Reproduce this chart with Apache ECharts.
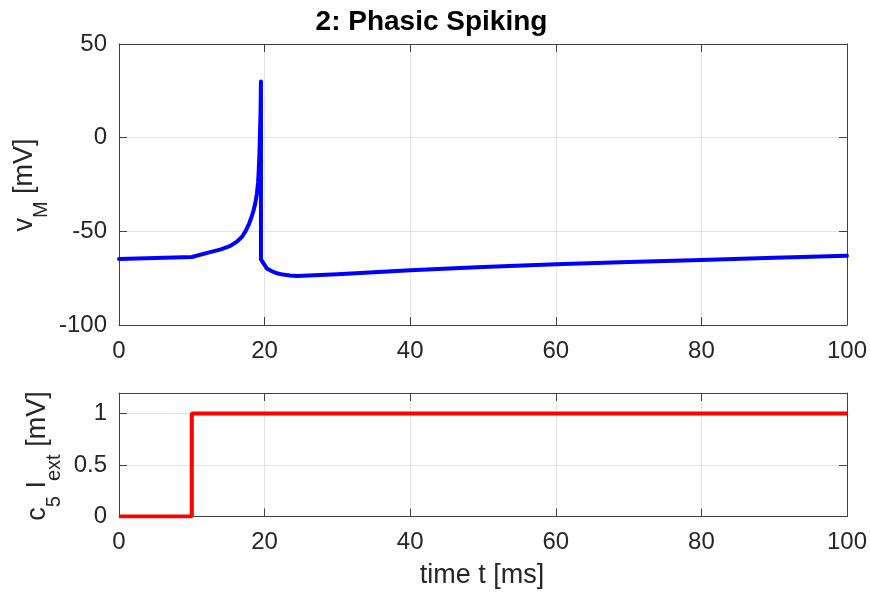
<!DOCTYPE html>
<html><head><meta charset="utf-8">
<script src="https://cdn.jsdelivr.net/npm/echarts@6/dist/echarts.min.js"></script>
<style>html,body{margin:0;padding:0;background:#fff}#c{width:870px;height:594px}</style>
</head><body><div id="c"></div>
<script>
// Membrane potential v_M [mV] vs time t [ms]
const timeV = [0, 5, 10, 12, 14, 15.3, 16.2, 16.9, 17.35, 17.8, 18.2, 18.5, 18.75, 18.95, 19.1, 19.2, 19.3, 19.35, 19.45, 19.5,
  19.5, 20.3, 21.0, 21.7, 22.5, 23.5, 24.5, 26, 30, 35, 40, 50, 60, 70, 80, 90, 100];
const vM = [-64.8, -64.2, -63.7, -61.6, -59.6, -57.8, -55.5, -52.9, -50.2, -46.6, -42.5, -38.6, -34.5, -29.7, -24.0, -17.3, -8.0, 0, 15, 30,
  -65.0, -69.8, -71.3, -72.4, -73.1, -73.6, -73.9, -73.6, -72.9, -71.8, -70.8, -69.1, -67.6, -66.4, -65.3, -64.1, -63.0];
// External input c5*I_ext [mV]
const timeI = [0, 10, 10, 100];
const iExt = [0, 0, 1, 1];
const xTicks = [0, 20, 40, 60, 80, 100];
const yTicks1 = [-100, -50, 0, 50];
const yTicks2 = [0, 0.5, 1];

const FONT = "'Liberation Sans', Arial, Helvetica, sans-serif";
const AX = '#404040', TXT = '#262626', GRIDC = '#e3e3e3';
const TICKF = 24, LABF = 27, SUBF = 20;
const chart = echarts.init(document.getElementById('c'), null, {renderer: 'canvas'});

function xAx(gi, top) {
  return {
    type: 'value', gridIndex: gi, min: 0, max: 100, interval: 20,
    position: top ? 'top' : 'bottom',
    axisLine: {show: true, onZero: false, lineStyle: {color: AX, width: 1}},
    axisTick: {show: true, inside: true, length: 8, lineStyle: {color: AX}},
    axisLabel: {show: !top, color: TXT, fontSize: TICKF, fontFamily: FONT, margin: 14,
      formatter: v => xTicks.indexOf(v) >= 0 ? String(v) : ''},
    splitLine: {show: !top, lineStyle: {color: GRIDC, width: 1}}
  };
}
function yAx(gi, right, min, max, interval) {
  return {
    type: 'value', gridIndex: gi, min: min, max: max, interval: interval,
    position: right ? 'right' : 'left',
    axisLine: {show: true, onZero: false, lineStyle: {color: AX, width: 1}},
    axisTick: {show: true, inside: true, length: 8, lineStyle: {color: AX}},
    axisLabel: {show: !right, color: TXT, fontSize: TICKF, fontFamily: FONT, margin: 12,
      showMaxLabel: gi === 0,
      formatter: v => (gi === 0 ? yTicks1 : yTicks2).indexOf(v) >= 0 ? String(v) : ''},
    splitLine: {show: !right, lineStyle: {color: GRIDC, width: 1}}
  };
}
function richLabel() {
  return {
    n: {font: LABF + 'px ' + FONT, fill: TXT, lineHeight: 40, verticalAlign: 'top'},
    s: {font: SUBF + 'px ' + FONT, fill: TXT, lineHeight: 40, verticalAlign: 'bottom', padding: [16, 0, 0, 0]}
  };
}

chart.setOption({
  animation: false,
  backgroundColor: '#fff',
  grid: [
    {left: 119, top: 44, width: 728, height: 281},
    {left: 119, top: 393, width: 728, height: 123.5}
  ],
  xAxis: [xAx(0, false), xAx(0, true), xAx(1, false), xAx(1, true)],
  yAxis: [yAx(0, false, -100, 50, 50), yAx(0, true, -100, 50, 50),
          yAx(1, false, 0, 1.2, 0.5), yAx(1, true, 0, 1.2, 0.5)],
  series: [
    {type: 'line', xAxisIndex: 0, yAxisIndex: 0, showSymbol: false, symbol: 'none',
     data: timeV.map((t, i) => [t, vM[i]]),
     lineStyle: {color: '#0000ff', width: 4, join: 'round', cap: 'round'}},
    {type: 'line', xAxisIndex: 2, yAxisIndex: 2, showSymbol: false, symbol: 'none',
     data: timeI.map((t, i) => [t, iExt[i]]),
     lineStyle: {color: '#ff0000', width: 4}}
  ],
  graphic: [
    {type: 'text', x: 431.5, y: 22, style: {text: '2: Phasic Spiking', font: 'bold 28px ' + FONT,
      fill: '#000', textAlign: 'center', textVerticalAlign: 'middle'}},
    {type: 'text', x: 482, y: 576, style: {text: 'time t [ms]', font: LABF + 'px ' + FONT,
      fill: TXT, textAlign: 'center', textVerticalAlign: 'middle'}},
    {type: 'text', x: 31, y: 185, rotation: Math.PI / 2, style: {
      text: '{n|v}{s|M}{n| [mV]}', textAlign: 'center', textVerticalAlign: 'middle', rich: richLabel()}},
    {type: 'text', x: 44, y: 456, rotation: Math.PI / 2, style: {
      text: '{n|c}{s|5}{n| I}{s|ext}{n| [mV]}', textAlign: 'center', textVerticalAlign: 'middle', rich: richLabel()}}
  ]
});
</script></body></html>
